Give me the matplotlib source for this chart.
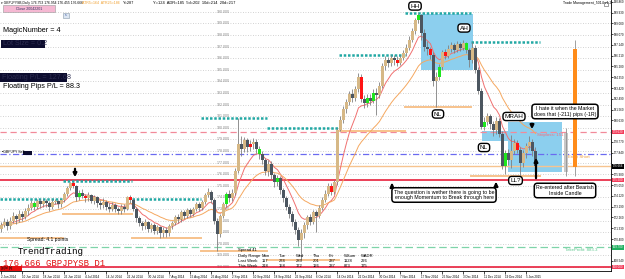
import matplotlib
matplotlib.use("Agg")
import matplotlib.pyplot as plt
from matplotlib.patches import Rectangle
import pandas as pd

plt.rcParams['font.family'] = ['Liberation Sans', 'DejaVu Sans']

# GBPJPY D1 candles (Jun 2014 - Jan 2015)
first_open = 171.3
closes = [
    171.6, 171.9, 171.5, 172.0, 172.4, 172.1, 172.6, 172.3, 172.8, 173.1,
    173.5, 173.2, 173.7, 173.4, 173.7, 173.5, 173.2, 173.6, 173.7, 173.4,
    173.8, 174.3, 174.8, 175.2, 175.0, 174.0, 174.4, 174.1, 173.9, 174.2,
    173.7, 174.0, 173.5, 173.3, 173.6, 173.2, 173.0, 173.3, 173.0, 172.8,
    173.2, 173.0, 174.0, 173.8, 173.0, 172.2, 171.8, 171.5, 171.9, 171.3,
    171.6, 171.1, 171.4, 170.9, 171.2, 170.9, 171.5, 171.8, 172.3, 172.1,
    172.7, 172.4, 172.9, 172.6, 173.0, 173.4, 173.1, 173.6, 174.2, 174.5,
    173.8, 172.0, 170.8, 172.4, 173.4, 174.3, 173.9, 174.4, 176.3, 178.6,
    178.2, 178.9, 178.3, 178.6, 178.8, 178.2, 177.7, 177.2, 176.3, 176.9,
    175.9, 175.3, 175.7, 174.6, 173.9, 173.2, 172.6, 171.9, 171.2, 170.3,
    170.9, 171.6, 172.3, 171.9, 172.7, 172.4, 173.1, 173.8, 174.3, 175.0,
    174.5, 175.3, 179.8, 180.7, 181.6, 182.2, 182.9, 182.6, 183.3, 184.4,
    182.5, 182.1, 182.6, 182.3, 183.0, 182.8, 183.6, 185.3, 185.8, 185.6,
    186.0, 185.8, 185.6, 186.0, 186.4, 186.9, 187.6, 188.3, 189.3, 189.7,
    188.2, 187.0, 186.8, 186.3, 184.0, 184.4, 185.2, 186.5, 186.2, 186.8,
    187.1, 186.7, 187.2, 186.9, 187.3, 186.7, 185.8, 186.9, 185.0, 183.2,
    180.1, 180.5, 181.0, 180.3, 179.8, 180.6, 179.5, 176.7, 177.8, 177.2,
    178.0, 178.7, 178.1, 177.0, 177.8, 178.4, 178.8, 178.0, 176.67,
]
highs = [
    171.9, 172.2, 172.1, 172.3, 172.7, 172.6, 172.9, 172.8, 173.1, 173.4,
    173.8, 173.7, 173.85, 173.85, 173.85, 173.85, 173.7, 173.85, 173.85, 173.8,
    173.85, 174.5, 175.0, 175.3, 175.4, 175.1, 174.6, 174.7, 174.3, 174.5,
    174.3, 174.2, 174.1, 173.8, 173.9, 173.8, 173.5, 173.6, 173.5, 173.2,
    173.4, 173.4, 174.1, 174.2, 173.85, 173.2, 172.4, 172.0, 172.1, 172.0,
    171.8, 171.8, 171.6, 171.5, 171.4, 171.4, 171.7, 172.0, 172.5, 172.6,
    172.9, 172.9, 173.1, 173.1, 173.2, 173.6, 173.6, 173.8, 174.4, 174.8,
    174.6, 173.9, 172.2, 172.6, 173.6, 174.5, 174.6, 174.7, 176.5, 180.8,
    179.3, 179.2, 179.1, 178.9, 179.1, 179.0, 178.4, 178.0, 177.4, 177.2,
    177.1, 176.1, 175.9, 175.8, 174.8, 174.1, 173.4, 172.8, 172.1, 171.4,
    171.3, 171.9, 172.5, 172.6, 172.9, 172.9, 173.3, 174.0, 174.6, 175.2,
    175.2, 175.5, 179.95, 181.0, 181.9, 182.5, 183.2, 183.3, 183.6, 184.7,
    184.6, 182.8, 182.9, 182.9, 183.3, 183.4, 183.9, 185.6, 186.2, 186.1,
    186.3, 186.3, 186.2, 186.3, 186.7, 187.2, 187.9, 188.6, 189.5, 189.85,
    189.8, 188.5, 187.5, 187.0, 186.5, 184.8, 185.5, 186.7, 186.8, 187.1,
    187.4, 187.3, 187.5, 187.4, 187.6, 187.4, 186.9, 187.4, 187.1, 185.2,
    183.4, 180.9, 181.3, 181.2, 180.6, 180.9, 180.8, 179.7, 178.1, 178.2,
    179.4, 179.0, 178.9, 178.3, 178.1, 178.7, 179.3, 179.0, 178.3,
]
lows = [
    171.0, 171.4, 171.2, 171.3, 171.8, 171.7, 171.9, 172.0, 172.1, 172.5,
    172.9, 172.9, 173.0, 173.1, 173.2, 173.2, 172.8, 173.0, 173.4, 173.1,
    173.2, 173.6, 174.1, 174.6, 174.8, 173.7, 173.8, 173.9, 173.6, 173.7,
    173.5, 173.4, 173.2, 173.0, 173.1, 172.9, 172.7, 172.8, 172.7, 172.6,
    172.6, 172.7, 172.9, 173.5, 172.8, 171.9, 171.5, 171.2, 171.3, 171.0,
    171.0, 170.8, 170.8, 170.5, 170.6, 170.6, 170.7, 171.3, 171.6, 171.8,
    171.9, 172.1, 172.2, 172.3, 172.4, 172.8, 172.8, 172.9, 173.4, 174.0,
    173.5, 171.7, 169.4, 170.6, 172.2, 173.2, 173.6, 173.7, 174.2, 176.1,
    177.6, 177.9, 177.9, 178.0, 178.2, 177.8, 177.3, 176.9, 175.9, 175.8,
    175.6, 174.9, 175.0, 174.3, 173.6, 172.9, 172.2, 171.5, 170.8, 169.8,
    168.6, 170.5, 171.3, 171.6, 171.7, 171.0, 172.2, 172.9, 173.6, 174.1,
    174.2, 174.3, 175.1, 179.7, 180.4, 181.3, 182.0, 182.2, 182.3, 183.1,
    182.2, 181.7, 181.8, 182.0, 182.1, 181.1, 182.6, 183.4, 185.0, 185.2,
    185.3, 185.4, 185.3, 185.4, 185.8, 186.2, 186.7, 187.4, 188.1, 189.0,
    187.6, 186.6, 186.3, 185.9, 183.6, 181.8, 184.1, 185.0, 185.9, 186.0,
    186.5, 186.4, 186.5, 186.6, 186.7, 186.4, 185.2, 185.6, 184.7, 182.9,
    179.9, 179.8, 180.2, 179.9, 179.3, 179.5, 179.2, 176.4, 176.0, 176.8,
    176.5, 177.7, 177.8, 175.8, 176.6, 177.4, 178.1, 177.6, 176.4,
]
green_bars = [11, 26, 75, 86, 92, 122, 124, 139, 146, 155, 161, 168]
red_bars = [24, 28, 43, 83, 110, 120, 132, 143, 148, 172]

# monthly high / low segments (first bar of each month, level)
month_start = [0, 21, 44, 67, 89, 113, 135, 157, 180]
month_high = [173.85, 175.4, 173.85, 180.8, 179.95, 186.3, 189.85, 187.4]
month_low = [170.5, 172.6, 170.5, 169.4, 168.6, 179.7, 181.8, 175.8]

# trade levels
stoploss = 179.63
entry_short = 177.73
bid = 176.666
red_line = 175.5
take_profit = 169.7
red_line_low = 168.0

grid_levels = list(range(168, 191))
right_ticks = [190.86, 189.93, 189.00, 188.07, 187.14, 186.21, 185.28, 184.35,
               183.42, 182.49, 181.56, 180.63, 178.77, 177.84, 175.98, 175.05,
               174.12, 173.19, 172.26, 171.33, 170.40, 168.54]
date_ticks = [0, 7, 14, 21, 28, 35, 42, 49, 56, 63, 70, 77, 84, 91, 98, 105,
              112, 119, 126, 133, 140, 147, 154, 161, 168, 175]
date_labels = ["2 Jun 2014", "10 Jun 2014", "18 Jun 2014", "26 Jun 2014",
               "4 Jul 2014", "14 Jul 2014", "22 Jul 2014", "30 Jul 2014",
               "7 Aug 2014", "15 Aug 2014", "25 Aug 2014", "2 Sep 2014",
               "10 Sep 2014", "18 Sep 2014", "26 Sep 2014", "6 Oct 2014",
               "14 Oct 2014", "22 Oct 2014", "30 Oct 2014", "7 Nov 2014",
               "17 Nov 2014", "25 Nov 2014", "3 Dec 2014", "11 Dec 2014",
               "19 Dec 2014", "5 Jan 2015"]

W, H = 625, 279
fig = plt.figure(figsize=(6.25, 2.79), dpi=100)
ax = fig.add_axes([0, 8 / H, 611 / W, 271 / H])
ax.set_xlim(-0.5, 203.17)
ax.set_ylim(167.647, 191.009)


def px(x):
    return (x - 1.5) / 3.0


def py(y):
    return 190 - (y - 11.7) / 11.6


def ft(x, y):
    return x / W, 1 - y / H


# grid + its labels
for lv in grid_levels:
    ax.axhline(lv, color='#c4c4c4', lw=0.6, ls=(0, (1, 2)), zorder=0)
    ax.text(px(217), lv, f"{lv}.000", fontsize=2.6, color='#888888', va='center', zorder=1)

# blue boxes
for x0, x1, y0, y1 in [(421, 473, 14, 70), (482, 508, 131, 141), (508, 562, 122, 172)]:
    ax.add_patch(Rectangle((px(x0), py(y1)), px(x1) - px(x0), py(y0) - py(y1),
                           fc='#8ccfee', ec='none', zorder=1))

# trade level lines
ax.axhline(stoploss, color='#f28a9a', lw=0.9, ls=(0, (5, 3)), zorder=2)
ax.axhline(entry_short, color='#6a6af0', lw=0.9, ls=(0, (5, 2, 1, 2)), zorder=2)
ax.axhline(bid, color='#f6c490', lw=1.0, zorder=2)
ax.axhline(red_line, color='#e8203c', lw=1.2, zorder=2)
ax.axhline(take_profit, color='#7ed4a8', lw=0.9, ls=(0, (6, 3)), zorder=2)
ax.axhline(red_line_low, color='#e8203c', lw=1.2, zorder=2)

# monthly high/low segments
for k in range(len(month_high)):
    a, b = month_start[k] - 0.5, month_start[k + 1] - 0.5
    ax.plot([a, b], [month_high[k]] * 2, color='#22a8a4', lw=1.8, ls=(0, (1, 0.7)), zorder=2)
    ax.plot([a, b], [month_low[k]] * 2, color='#f7c28c', lw=1.4, zorder=2)

# moving averages
s = pd.Series(closes)
ax.plot(range(len(closes)), s.ewm(span=8, adjust=False).mean(), color='#f07070', lw=0.7, zorder=3)
ax.plot(range(len(closes)), s.ewm(span=21, adjust=False).mean(), color='#f5a860', lw=0.7, zorder=3)

# candles
opens = [first_open] + closes[:-1]
for i, (o, h, l, c) in enumerate(zip(opens, highs, lows, closes)):
    ax.vlines(i, l, h, color='#808080', lw=0.6, zorder=4)
    col = '#d6b886' if c >= o else '#4c5660'
    if i in green_bars:
        col = '#1ee61e'
    if i in red_bars:
        col = '#ff1414'
    ax.add_patch(Rectangle((i - 0.34, min(o, c)), 0.68, max(abs(c - o), 0.06),
                           fc=col, ec='none', zorder=5))

# future bars on the right
ax.add_patch(Rectangle((px(564), py(172)), px(568) - px(564), py(133) - py(172), fc='#c8c8c8', ec='none', zorder=4))
ax.vlines(px(566), py(176), py(128), color='#909090', lw=0.6, zorder=4)
ax.vlines(px(575.5), py(176), py(40), color='#909090', lw=0.6, zorder=4)
ax.add_patch(Rectangle((px(573.5), py(167)), px(577.5) - px(573.5), py(49) - py(167), fc='#ff8c1a', ec='none', zorder=5))

# axes
for sp in ['left', 'top']:
    ax.spines[sp].set_visible(False)
ax.spines['right'].set_linewidth(0.6)
ax.spines['bottom'].set_linewidth(0.6)
ax.yaxis.tick_right()
ax.set_yticks(right_ticks)
ax.set_yticklabels([f"{t:.3f}" for t in right_ticks])
ax.tick_params(axis='y', labelsize=2.1, length=1.5, width=0.5, pad=0.6)
ax.set_xticks(date_ticks)
ax.set_xticklabels(date_labels, ha='left')
ax.tick_params(axis='x', labelsize=2.2, length=2, width=0.5, pad=0.8)

ytr = ax.get_yaxis_transform()
for lv, fc in [(stoploss, '#f23c5a'), (bid, 'black'), (red_line, '#f23c5a'),
               (take_profit, '#1fb060'), (red_line_low, '#f23c5a')]:
    ax.text(1.003, lv, f"{lv:.3f}", transform=ytr, fontsize=2.1, color='white', va='center',
            bbox=dict(boxstyle='square,pad=0.12', fc=fc, ec='none'), clip_on=False)

# line captions
ax.text(px(537), stoploss - 0.08, "Stoploss: 151.0", fontsize=3.2, color='#f07080', va='top')
ax.text(px(568), entry_short - 0.08, "Entry Short", fontsize=3.2, color='#f0a040', va='top')
ax.text(px(565), take_profit - 0.08, "TakeProfit: 883.3", fontsize=3.2, color='#60c890', va='top')

# header
fig.text(*ft(1, 3), "\u25be GBPJPYSB,Daily 176.753 176.954 176.455 176.666", fontsize=2.4, va='center')
fig.text(*ft(82, 3), "ATR5=164  ATR25=186", fontsize=2.6, color='#f0a030', va='center')
fig.text(*ft(123, 3), "Y=287", fontsize=2.8, va='center')
fig.text(*ft(153, 3), "Y=124  ADR=185  5d=202  10d=214  20d=217", fontsize=2.9, va='center')
fig.text(*ft(563, 3), "Trade Management_5014 v1.2", fontsize=2.5, va='center')
fig.patches.append(Rectangle(ft(604, 6), 4 / W, 4 / H, transform=fig.transFigure, fc='white', ec='#555555', lw=0.4))

# left panel
fig.patches.append(Rectangle(ft(3, 12), 52 / W, 7 / H, transform=fig.transFigure, fc='#f5b8d2', ec='#999999', lw=0.4))
fig.text(*ft(29, 8.5), "Close 20042201", fontsize=2.6, color='#303060', ha='center', va='center')
fig.patches.append(Rectangle(ft(63, 18), 6 / W, 5 / H, transform=fig.transFigure, fc='#dce6f2', ec='#8899aa', lw=0.4))
fig.text(*ft(66, 15.5), "s", fontsize=2.4, color='#3050a0', ha='center', va='center')
fig.text(*ft(3, 31), "MagicNumber = 4", fontsize=5.2, va='center')
fig.patches.append(Rectangle(ft(1, 48), 44 / W, 8 / H, transform=fig.transFigure, fc='#0c0c2e', ec='none'))
fig.text(*ft(3, 44), "Lot Size = 0.2", fontsize=5.2, color='#2c2c50', va='center')
fig.patches.append(Rectangle(ft(0, 82), 67 / W, 9 / H, transform=fig.transFigure, fc='#0c0c2e', ec='none'))
fig.text(*ft(2, 77.5), "Floating P/L = 127.68", fontsize=5.2, color='#2c2c50', va='center')
fig.text(*ft(3, 86.5), "Floating Pips P/L = 88.3", fontsize=5.2, va='center')
fig.text(*ft(2, 152), "\u25aaGBPJPY Sell", fontsize=2.6, va='center')
fig.patches.append(Rectangle(ft(23, 155), 9 / W, 4 / H, transform=fig.transFigure, fc='#0c0c2e', ec='none'))

# bottom-left
fig.text(*ft(27, 240), "Spread: 4.1 points", fontsize=3.6, va='center')
fig.text(*ft(18, 252), "TrendTrading", fontsize=6.6, family='Liberation Mono', va='center')
fig.text(*ft(3, 263.5), "176.666 GBPJPYSB D1", fontsize=6.4, family='Liberation Mono', color='#e01010', va='center')
fig.patches.append(Rectangle(ft(0, 271), 22 / W, 5 / H, transform=fig.transFigure, fc='#e81010', ec='none'))
fig.text(*ft(1, 268.5), "[p] bl [n]", fontsize=2.2, va='center')

# daily range table
fig.text(*ft(238, 250), "Spread 41", fontsize=3, va='center')
cols = [238, 262, 279, 296, 313, 329, 344, 361]
for row_y, row in [(256, ["Daily Range", "Mon", "Tue", "Wed", "Thu", "Fri", "WSum", "WADR"]),
                   (261, ["Last Week", "117", "274", "283", "201", "237", "1128", "226"]),
                   (266, ["This Week", "218", "158", "172", "126", "237", "873", "175"])]:
    for cx, t in zip(cols, row):
        fig.text(*ft(cx, row_y), t, fontsize=3, va='center')

# swing labels
box = dict(boxstyle='round,pad=0.25,rounding_size=0.5', fc='white', ec='black', lw=1.0)
for x, y, t in [(415, 6, "HH"), (464, 28, "AH"), (438, 114, "NL"), (514, 116.5, "MRAH"),
                (484, 147.5, "NL"), (515.5, 180.5, "LL?")]:
    fig.text(*ft(x, y), t, fontsize=4.6, ha='center', va='center', bbox=box, zorder=10)

note = dict(boxstyle='round,pad=0.35,rounding_size=0.6', fc='white', ec='black', lw=1.1)
fig.text(*ft(565, 111.5), "I hate it when the Market\ndoes that (-211) pips (-1R)", fontsize=3.8,
         ha='center', va='center', bbox=note, linespacing=1.2, zorder=10)
fig.text(*ft(565, 190.5), "Re-entered after Bearish\nInside Candle", fontsize=3.8,
         ha='center', va='center', bbox=note, linespacing=1.2, zorder=10)
fig.text(*ft(444, 195), "The question is wether there is going to be\nenough Momentum to Break through here",
         fontsize=3.8, ha='center', va='center', bbox=note, linespacing=1.2, zorder=10)

arrow = dict(arrowstyle='-|>', color='black', lw=1.6, mutation_scale=5)
for (x0, y0), (x1, y1) in [((75, 166), (75, 180)), ((532, 121), (532, 132)),
                           ((536, 181), (536, 155)), ((392, 189), (392, 180)),
                           ((496, 189), (496, 179))]:
    ax.annotate('', xy=ft(x1, y1), xytext=ft(x0, y0), xycoords='figure fraction',
                textcoords='figure fraction', arrowprops=arrow, zorder=11)

fig.savefig('out.png', dpi=100, facecolor='white')
